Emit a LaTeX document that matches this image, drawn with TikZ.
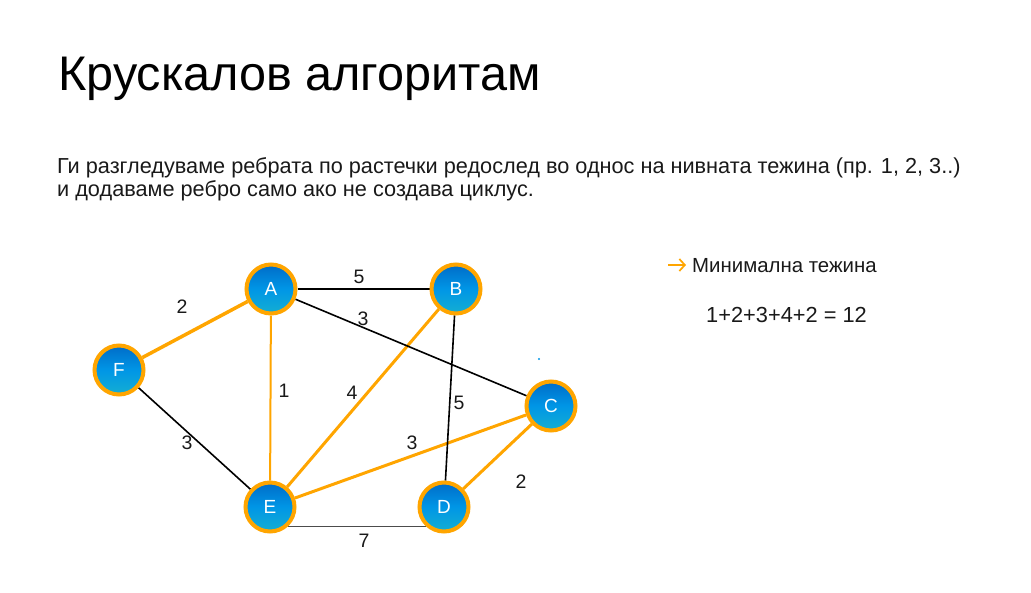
\documentclass[tikz,border=0pt]{standalone}
\usepackage{fontspec}
\setmainfont{Liberation Sans}
\usetikzlibrary{backgrounds,arrows.meta}
\definecolor{edgeorange}{RGB}{255,165,0}
\definecolor{nodetop}{RGB}{0,108,200}
\definecolor{nodemid}{RGB}{0,150,230}
\definecolor{nodebottom}{RGB}{20,175,210}
\definecolor{inkgray}{RGB}{25,25,25}
\begin{document}
\begin{tikzpicture}[x=1pt,y=-1pt,
  vertex/.style={circle, minimum size=49pt, inner sep=0pt,
    draw=edgeorange, line width=4pt,
    top color=nodetop, bottom color=nodebottom, middle color=nodemid,
    text=white, font=\fontsize{19}{19}\selectfont},
  picked/.style={draw=edgeorange, line width=3pt},
  plain/.style={draw=black, line width=1.6pt},
  lbl/.style={font=\fontsize{19.5}{19.5}\selectfont, text=inkgray, inner sep=0pt}]
\useasboundingbox (0,0) rectangle (1031,592);

% heading and explanation
\node[anchor=base west, inner sep=0pt, font=\fontsize{48.6}{48.6}\selectfont] (title) at (58,90) {Крускалов алгоритам};
\node[anchor=base west, inner sep=0pt, font=\fontsize{21.7}{24}\selectfont, text=inkgray] (line1) at (57,173)
  {Ги разгледуваме ребрата по растечки редослед во однос на нивната тежина (пр. 1, 2, 3..)};
\node[anchor=base west, inner sep=0pt, font=\fontsize{21.7}{24}\selectfont, text=inkgray] (line2) at (57,196)
  {и додаваме ребро само ако не создава циклус.};

% result
\coordinate (bulletL) at (668,265);
\coordinate (bulletR) at (686,265);
\draw[edgeorange, line width=1.7pt, -{Straight Barb[length=5.5pt,width=12pt]}] (bulletL) -- (bulletR);
\node[anchor=base west, inner sep=0pt, font=\fontsize{20.4}{20.4}\selectfont, text=inkgray] (minw) at (692,272) {Минимална тежина};
\node[anchor=base west, inner sep=0pt, font=\fontsize{21.8}{21.8}\selectfont, text=inkgray] (sum) at (706,322) {1+2+3+4+2 = 12};

% vertices
\node[vertex] (A) at (271,289) {A};
\node[vertex] (B) at (456,289) {B};
\node[vertex] (F) at (119,370) {F};
\node[vertex] (C) at (551,406) {C};
\node[vertex] (E) at (270,507) {E};
\node[vertex] (D) at (444,507) {D};

\fill[nodemid] (539,359) circle (1.2pt);

% edges
\begin{scope}[on background layer]
  \draw[picked, line width=3.5pt] (A) -- (F);
  \draw[picked, line width=2pt] (A) -- (E);
  \draw[picked] (B) -- (E);
  \draw[picked] (E) -- (C);
  \draw[picked] (C) -- (D);
  \draw[plain, line width=1.3pt] (A) -- (B);
  \draw[plain] (A) -- (C);
  \draw[plain] (B) -- (D);
  \draw[plain] (F) -- (E);
  \draw[draw=black!70, line width=1.3pt] (E.-47) -- (D.-133);
\end{scope}

% weights
\node[lbl] (wAB) at (359,277) {5};
\node[lbl] (wAC) at (363,319) {3};
\node[lbl] (wAF) at (182,307) {2};
\node[lbl] (wAE) at (284,391) {1};
\node[lbl] (wBE) at (352,393) {4};
\node[lbl] (wBD) at (459,403) {5};
\node[lbl] (wFE) at (187,443) {3};
\node[lbl] (wEC) at (412,443) {3};
\node[lbl] (wCD) at (521,482) {2};
\node[lbl] (wED) at (364,541) {7};
\end{tikzpicture}
\end{document}
